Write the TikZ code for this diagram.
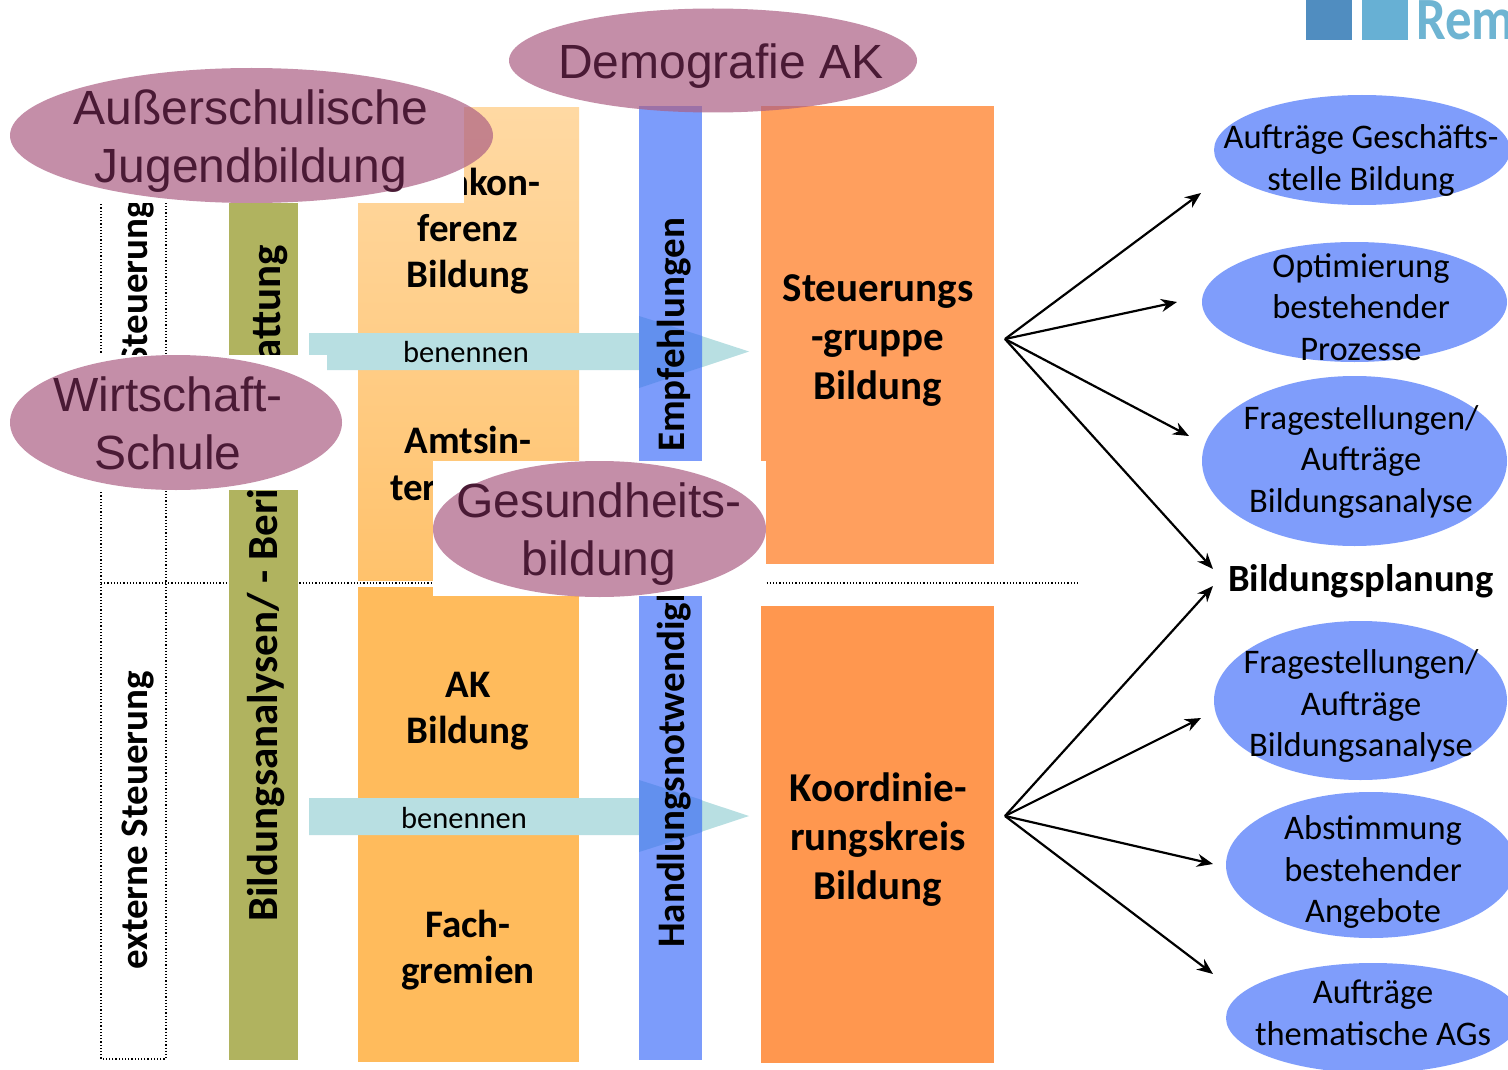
\documentclass[tikz,border=0pt]{standalone}
\usepackage{fontspec}
\setmainfont{Carlito}
\newfontfamily\libfont{Liberation Sans}
\usetikzlibrary{shapes.geometric,arrows.meta}
\definecolor{orgA}{HTML}{FFD9A3}
\definecolor{orgB}{HTML}{FFC26C}
\definecolor{orgC}{HTML}{FFBB5C}
\definecolor{boxA}{HTML}{FF9F5E}
\definecolor{boxB}{HTML}{FF974F}
\definecolor{bluecol}{HTML}{7C9CFB}
\definecolor{bluedark}{HTML}{6290EE}
\definecolor{teal}{HTML}{B8DFE2}
\definecolor{olive}{HTML}{B0B35F}
\definecolor{mauve}{HTML}{AB5F84}
\definecolor{mauvetext}{HTML}{4A1A35}
\definecolor{ellblue}{HTML}{7F9DFB}
\tikzset{
  x=1pt,y=-1pt,
  col/.style={rectangle,draw=none,inner sep=0,outer sep=0},
  boldtxt/.style={font=\bfseries\fontsize{39}{46}\selectfont,align=center,text=black,inner sep=0},
  bigbold/.style={font=\bfseries\fontsize{41}{49}\selectfont,align=center,text=black,inner sep=0},
  vert/.style={font=\bfseries\fontsize{39}{44}\selectfont,rotate=90,text=black,inner sep=0},
  vertbig/.style={font=\bfseries\fontsize{43}{44}\selectfont,rotate=90,text=black,inner sep=0},
  maueell/.style={ellipse,fill=mauve,fill opacity=.7,inner sep=0,outer sep=0},
  mauetxt/.style={text=mauvetext,inner sep=0,font=\libfont\fontsize{48}{58}\selectfont,align=center},
  blueell/.style={ellipse,fill=ellblue,inner sep=0,outer sep=0},
  bluetxt/.style={inner sep=0,text=black,font=\fontsize{34.5}{41.5}\selectfont,align=center},
  whitebox/.style={fill=white,draw=none},
  dotline/.style={draw=black,line width=1.2pt,dotted},
  benarrow/.style={fill=teal,draw=none},
  link/.style={draw=black,line width=2.2pt,-{Stealth[length=16pt,width=13pt]}},
  bentxt/.style={font=\fontsize{30.5}{34}\selectfont,text=black,inner sep=0},
}
\begin{document}
\begin{tikzpicture}
\useasboundingbox (0,0) rectangle (1508,1070);
\clip (0,0) rectangle (1508,1070);
\fill[fill=white] (0,0) rectangle (1508,1070);
% logo
\node[col,fill={rgb,255:red,80;green,141;blue,192},minimum width=46,minimum height=41] (logoa) at (1329,20) {};
\node[col,fill={rgb,255:red,103;green,176;blue,212},minimum width=46,minimum height=41] (logob) at (1385,20) {};
\node[anchor=base west,inner sep=0,xscale=.88,text={rgb,255:red,110;green,180;blue,210},font=\bfseries\fontsize{60}{60}\selectfont] (logot) at (1416,40) {Rem};
% dotted frame
\draw[dotline] (101,583) -- (101,190) (166,190) -- (166,1059) -- (101,1059) -- (101,583);
\draw[dotline] (101,583) -- (1078,583);
% columns
\node[col,minimum width=69,minimum height=857,fill=olive] (olive) at (263.5,631.5) {};
\node[col,minimum width=221,minimum height=472,top color=orgA,bottom color=orgB] (orgtop) at (468.5,344) {};
\node[col,minimum width=221,minimum height=475,fill=orgC] (orgbot) at (468.5,824.5) {};
\node[col,minimum width=233,minimum height=458,fill=boxA] (steu) at (877.5,335) {};
\node[col,minimum width=233,minimum height=457,fill=boxB] (koor) at (877.5,834.5) {};
% arrows
\fill[benarrow] (309,333) -- (640,333) -- (640,316) -- (749,351.5) -- (640,388) -- (640,370) -- (327,370) -- (327,355) -- (309,355) -- cycle;
\fill[benarrow] (309,798) -- (640,798) -- (640,780) -- (749,816) -- (640,852) -- (640,835) -- (309,835) -- cycle;
\node[col,minimum width=63,minimum height=954,fill=bluecol] (bluecol) at (670.5,583) {};
\fill[bluedark] (639,316) -- (702,336) -- (702,367) -- (639,388) -- cycle;
\fill[bluedark] (639,780) -- (702,800) -- (702,832) -- (639,852) -- cycle;
% texts in columns
\node[bentxt] (ben1) at (466,352) {benennen};
\node[bentxt] (ben2) at (464,818) {benennen};
\node[vert,anchor=west] (ext) at (138,970) {externe Steuerung};
\node[vert,anchor=west] (int) at (138,366) {Steuerung};
\node[vertbig,anchor=west] (bild) at (266,922) {Bildungsanalysen/ - Beri};
\node[vertbig,anchor=west] (att) at (271,361) {attung};
\node[vert,anchor=west] (hand) at (674,948) {Handlungsnotwendigk};
\node[vert,anchor=west] (empf) at (674,452) {Empfehlungen};
\node[boldtxt,anchor=base east] (kon) at (541,195) {nkon-};
\node[boldtxt] (ferenz) at (468,254) {ferenz\\Bildung};
\node[boldtxt] (amts) at (468,440) {Amtsin-};
\node[boldtxt,anchor=base west] (ter) at (390,500) {ter};
\node[boldtxt] (ak) at (468,711) {AK\\Bildung};
\node[boldtxt] (fach) at (468,950) {Fach-\\gremien};
\node[bigbold] (steut) at (878,341) {Steuerungs\\-gruppe\\Bildung};
\node[bigbold] (koort) at (878,839.5) {Koordinie-\\rungskreis\\Bildung};
% white covers
\fill[whitebox] (0,68) rectangle (464,203);
\fill[whitebox] (0,355) rectangle (327,490);
\fill[whitebox] (433,461) rectangle (766,596);
% mauve ellipses
\node[maueell,minimum width=408,minimum height=104] (demo) at (713,60.5) {};
\node[maueell,minimum width=483,minimum height=135] (ausser) at (251.5,135.5) {};
\node[maueell,minimum width=332,minimum height=135] (wirt) at (176,422.5) {};
\node[maueell,minimum width=333,minimum height=136] (gesund) at (599.5,529) {};
\node[mauetxt] (demot) at (721,66) {Demografie AK};
\node[mauetxt] (ausst) at (251,141) {Außerschulische\\Jugendbildung};
\node[mauetxt] (wirtt) at (168,423) {Wirtschaft-\\Schule};
\node[mauetxt] (gest) at (599,534) {Gesundheits-\\bildung};
% blue ellipses
\node[blueell,minimum width=296,minimum height=110] (e1) at (1362,150) {};
\node[blueell,minimum width=305,minimum height=120] (e2) at (1354.5,302) {};
\node[blueell,minimum width=305,minimum height=170] (e3) at (1354.5,461) {};
\node[blueell,minimum width=293,minimum height=159] (e4) at (1360.5,700.5) {};
\node[blueell,minimum width=290,minimum height=146] (e5) at (1371,865) {};
\node[blueell,minimum width=294,minimum height=110] (e6) at (1373,1018) {};
\node[bluetxt] (t1) at (1361,160.5) {Aufträge Geschäfts-\\stelle Bildung};
\node[bluetxt] (t2) at (1361,307) {Optimierung\\bestehender\\Prozesse};
\node[bluetxt] (t3) at (1361,461.5) {Fragestellungen/\\Aufträge\\Bildungsanalyse};
\node[bluetxt] (t4) at (1361,706) {Fragestellungen/\\Aufträge\\Bildungsanalyse};
\node[bluetxt] (t5) at (1373,872) {Abstimmung\\bestehender\\Angebote};
\node[bluetxt] (t6) at (1373,1013) {Aufträge\\thematische AGs};
\node[font=\bfseries\fontsize{38.5}{42}\selectfont,inner sep=0] (plan) at (1361,581) {Bildungsplanung};
% connectors
\coordinate (hubA) at (1005,339);
\coordinate (hubB) at (1005,816);
\coordinate (a1) at (1201,193);
\coordinate (a2) at (1177,302);
\coordinate (a3) at (1189,436);
\coordinate (a4) at (1213,569);
\coordinate (b1) at (1213,586);
\coordinate (b2) at (1201,718);
\coordinate (b3) at (1213,864);
\coordinate (b4) at (1213,974);
\foreach \t in {a1,a2,a3,a4} \draw[link] (hubA) -- (\t);
\foreach \t in {b1,b2,b3,b4} \draw[link] (hubB) -- (\t);
\end{tikzpicture}
\end{document}
